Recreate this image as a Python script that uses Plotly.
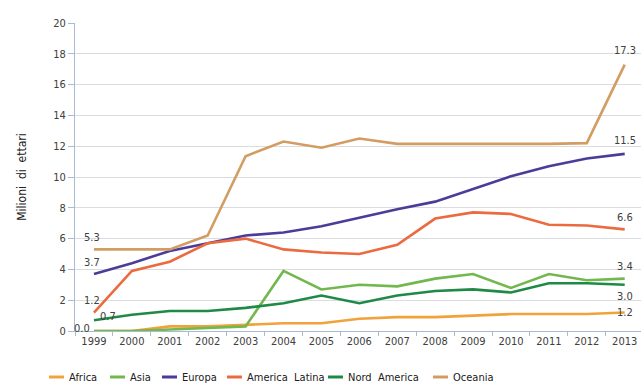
import plotly.graph_objects as go

years = [str(y) for y in range(1999, 2014)]
africa = [0.0, 0.0, 0.3, 0.3, 0.4, 0.5, 0.5, 0.8, 0.9, 0.9, 1.0, 1.1, 1.1, 1.1, 1.2]
asia = [0.0, 0.0, 0.1, 0.2, 0.3, 3.9, 2.7, 3.0, 2.9, 3.4, 3.7, 2.8, 3.7, 3.3, 3.4]
europa = [3.7, 4.4, 5.2, 5.7, 6.2, 6.4, 6.8, 7.35, 7.9, 8.4, 9.2, 10.05, 10.7, 11.2, 11.5]
america_latina = [1.2, 3.9, 4.5, 5.7, 6.0, 5.3, 5.1, 5.0, 5.6, 7.3, 7.7, 7.6, 6.9, 6.85, 6.6]
nord_america = [0.7, 1.05, 1.3, 1.3, 1.5, 1.8, 2.3, 1.8, 2.3, 2.6, 2.7, 2.5, 3.1, 3.1, 3.0]
oceania = [5.3, 5.3, 5.3, 6.2, 11.35, 12.3, 11.9, 12.5, 12.15, 12.15, 12.15, 12.15, 12.15, 12.2, 17.3]

series = [
    ("Africa", africa, "#F2A23A"),
    ("Asia", asia, "#72B84F"),
    ("Europa", europa, "#4A3D9A"),
    ("America  Latina", america_latina, "#EC6A3F"),
    ("Nord  America", nord_america, "#1E8A45"),
    ("Oceania", oceania, "#D29D62"),
]

font_fam = "Liberation Sans Narrow, DejaVu Sans Condensed, Arial Narrow, sans-serif"

W, H = 641, 387
ML, MR, MT, MB = 75, 0, 23, 56
PW, PH = W - ML - MR, H - MT - MB


def px(x):
    return (x - ML) / PW


def py(y):
    return (H - MB - y) / PH


fig = go.Figure()
for name, vals, col in series:
    fig.add_trace(go.Scatter(x=years, y=vals, mode="lines", name=name,
                             line=dict(color=col, width=2.6), showlegend=False))

# end labels: (series values, index, xshift, yshift)
labels = [
    (oceania, 0, -2, 12), (europa, 0, -2, 12), (america_latina, 0, -2, 12),
    (nord_america, 0, 14, 4), (asia, 0, -12, 3),
    (oceania, 14, 0, 14), (europa, 14, 0, 13), (america_latina, 14, 0, 12),
    (asia, 14, 0, 12), (nord_america, 14, 0, -12), (africa, 14, 0, 0),
]
for vals, i, xs, ys in labels:
    fig.add_annotation(x=i, y=vals[i], xref="x", yref="y", text=f"{vals[i]:.1f}",
                       showarrow=False, xshift=xs, yshift=ys,
                       font=dict(family=font_fam, size=11, color="#404040"))

# custom legend (line sample + text), positions in pixels of the page
legend_x = [49, 110, 162, 227, 328, 433]
legend_y = 377
for (name, vals, col), lx in zip(series, legend_x):
    fig.add_shape(type="line", xref="paper", yref="paper",
                  x0=px(lx), x1=px(lx + 15), y0=py(legend_y), y1=py(legend_y),
                  line=dict(color=col, width=3))
    fig.add_annotation(xref="paper", yref="paper", x=px(lx + 18), y=py(legend_y),
                       xanchor="left", yanchor="middle", text=name, showarrow=False,
                       font=dict(family=font_fam, size=11, color="#202020"))

fig.update_layout(
    width=W, height=H,
    margin=dict(l=ML, r=MR, t=MT, b=MB, autoexpand=False),
    paper_bgcolor="white", plot_bgcolor="white",
    font=dict(family=font_fam, size=11, color="#404040"),
    showlegend=False,
    xaxis=dict(type="category", range=[-0.5, 14.43], tickson="boundaries",
               ticks="outside", ticklen=4, tickcolor="#A9BBD0",
               showline=True, linecolor="#A9BBD0", linewidth=1,
               showgrid=False, tickfont=dict(size=11, color="#404040")),
    yaxis=dict(range=[0, 20], dtick=2, ticks="outside", ticklen=6,
               tickcolor="#A9BBD0", showline=True, linecolor="#A9BBD0",
               gridcolor="#DADCE0", gridwidth=1, zeroline=False,
               tickfont=dict(size=11, color="#404040"),
               title=dict(text="Milioni  di  ettari", standoff=24,
                          font=dict(family=font_fam, size=12, color="#202020"))),
)

fig.write_html("out.html")
